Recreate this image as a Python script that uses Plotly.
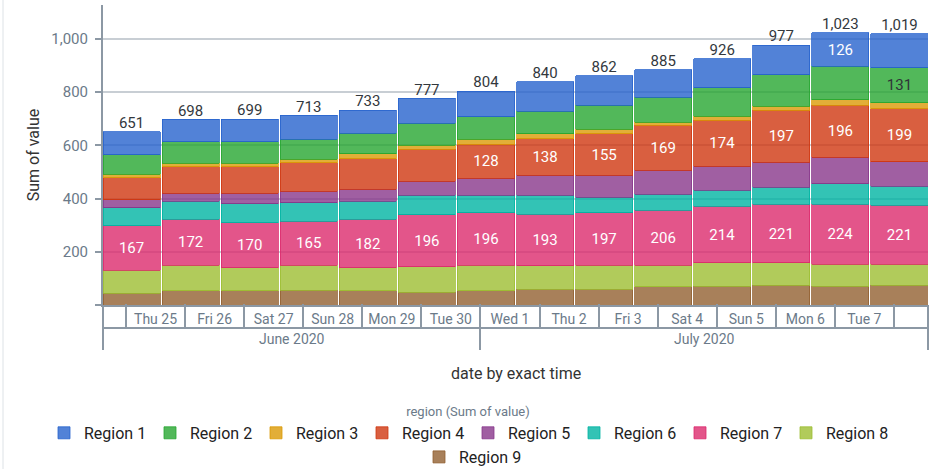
import pandas as pd
import plotly.graph_objects as go

# ---------------- data ----------------
dates = ["2020-06-25 02:15", "2020-06-26 02:15", "2020-06-27 02:15", "2020-06-28 02:15",
         "2020-06-29 02:15", "2020-06-30 02:15", "2020-07-01 02:15", "2020-07-02 02:15",
         "2020-07-03 02:15", "2020-07-04 02:15", "2020-07-05 02:15", "2020-07-06 02:15",
         "2020-07-07 02:15", "2020-07-08 02:15"]

regions = ["Region 1", "Region 2", "Region 3", "Region 4", "Region 5",
           "Region 6", "Region 7", "Region 8", "Region 9"]

region1 = [86, 85, 86, 89, 88, 94, 97, 112, 110, 104, 110, 112, 126, 127]
region2 = [73, 80, 80, 76, 77, 82, 84, 85, 92, 93, 106, 117, 126, 131]
region3 = [13, 13, 14, 14, 19, 15, 19, 17, 17, 13, 15, 15, 20, 23]
region4 = [83, 99, 98, 107, 113, 120, 128, 138, 155, 169, 174, 197, 196, 199]
region5 = [31, 31, 41, 42, 45, 53, 63, 76, 83, 89, 89, 94, 100, 93]
region6 = [67, 68, 70, 70, 69, 74, 67, 71, 58, 61, 60, 63, 77, 71]
region7 = [167, 172, 170, 165, 182, 196, 196, 193, 197, 206, 214, 221, 224, 221]
region8 = [86, 97, 87, 94, 87, 95, 97, 88, 90, 82, 87, 83, 83, 79]
region9 = [45, 53, 53, 56, 53, 48, 53, 60, 60, 68, 71, 75, 71, 75]

totals = [651, 698, 699, 713, 733, 777, 804, 840, 862, 885, 926, 977, 1023, 1019]

# which segments carry a value label
labeled1 = [False] * 12 + [True, False]
labeled2 = [False] * 13 + [True]
labeled4 = [False] * 6 + [True] * 8
labeled7 = [True] * 14

day_labels = ["Thu 25", "Fri 26", "Sat 27", "Sun 28", "Mon 29", "Tue 30", "Wed 1",
              "Thu 2", "Fri 3", "Sat 4", "Sun 5", "Mon 6", "Tue 7"]
month_labels = ["June 2020", "July 2020"]
month_start = "2020-07-01"

y_ticks = [0, 200, 400, 600, 800, 1000]
y_ticktext = ["", "200", "400", "600", "800", "1,000"]

colors = ["#2763cd", "#27a631", "#db9a06", "#cf3710", "#88378b",
          "#00b4a3", "#dc2a6d", "#9dbe32", "#926031"]

# ---------------- figure ----------------
FONT = "Roboto"
AXIS_COL = "#8c98a4"
TICK_COL = "#6b7a89"

def rgba(hexc, a):
    h = hexc.lstrip("#")
    r, g, b = int(h[0:2], 16), int(h[2:4], 16), int(h[4:6], 16)
    return f"rgba({r},{g},{b},{a})"

values = [region1, region2, region3, region4, region5, region6, region7, region8, region9]
labels = [labeled1, labeled2, None, labeled4, None, None, labeled7, None, None]

fig = go.Figure()
for i in reversed(range(9)):
    vals = values[i]
    lab = labels[i]
    text = [f"{v:,}" if (lab and lab[k]) else "" for k, v in enumerate(vals)]
    tcol = "#2f3338" if i == 1 else "white"
    fig.add_trace(go.Bar(
        x=dates, y=vals, name=regions[i],
        legend="legend2" if i == 8 else "legend",
        marker=dict(color=rgba(colors[i], 0.8), line=dict(color=colors[i], width=0.8)),
        text=text, textposition="inside", insidetextanchor="middle", textangle=0,
        textfont=dict(family=FONT, size=15, color=tcol),
        cliponaxis=False, hoverinfo="x+y+name",
    ))

fig.add_trace(go.Scatter(
    x=dates, y=totals, mode="text", text=[f"{t:,}" for t in totals],
    textposition="top center", showlegend=False,
    textfont=dict(family=FONT, size=15, color="#33383d"), cliponaxis=False,
))
# carriers so that the two label axes get drawn (draw nothing themselves)
for ax in ("x2", "x3"):
    fig.add_trace(go.Scatter(x=dates, y=totals, xaxis=ax, yaxis="y", mode="none",
                             showlegend=False, hoverinfo="skip"))

bargap = 0.034
d = pd.to_datetime(dates)
half = pd.Timedelta(days=(1 - bargap) / 2)
r0, r1 = d[0] - half, d[-1] + half
xr = [r0.strftime("%Y-%m-%d %H:%M:%S"), r1.strftime("%Y-%m-%d %H:%M:%S")]

days = d.floor("D")
day_tickvals = [(x + pd.Timedelta(hours=12)).strftime("%Y-%m-%d %H:%M") for x in days[:-1]]
day_seps = [x.strftime("%Y-%m-%d") for x in days]
ms = pd.Timestamp(month_start)
month_tickvals = [(r0 + (ms - r0) / 2).strftime("%Y-%m-%d %H:%M:%S"),
                  (ms + (r1 - ms) / 2).strftime("%Y-%m-%d %H:%M:%S")]
month_seps = [xr[0], month_start, xr[1]]

# pixel layout helpers
W, H = 934, 469
PT, PB = 5, 360          # paper top/bottom (px)
PH = PB - PT
def py(px):
    return (PB - px) / PH
PL, PR = 103, 928
def px_x(px):
    return (px - PL) / (PR - PL)

legend_common = dict(
    orientation="h",
    font=dict(family=FONT, size=16, color="#222"),
    entrywidth=61, entrywidthmode="pixels", bgcolor="rgba(0,0,0,0)",
)

fig.update_layout(
    width=W, height=H,
    margin=dict(l=PL, r=W - PR, t=PT, b=H - PB, autoexpand=False),
    paper_bgcolor="white", plot_bgcolor="white",
    barmode="stack", bargap=bargap,
    font=dict(family=FONT, color="#333"),
    showlegend=True,
    legend=dict(
        **legend_common, x=px_x(44), xanchor="left", y=py(399), yanchor="top",
        traceorder="reversed",
        title=dict(text="region (Sum of value)", side="top center",
                   font=dict(family=FONT, size=13, color=TICK_COL)),
    ),
    legend2=dict(**legend_common, x=px_x(472), xanchor="center", y=py(440), yanchor="top"),
    xaxis=dict(type="date", range=xr, showline=True, linecolor=AXIS_COL, linewidth=2,
               showgrid=False, zeroline=False, showticklabels=False, ticks="",
               anchor="y", automargin=False),
    xaxis2=dict(type="date", range=xr, overlaying="x", anchor="free", position=py(328),
                side="bottom", showline=True, linecolor=AXIS_COL, linewidth=2,
                showgrid=False, zeroline=False, automargin=False,
                tickmode="array", tickvals=day_tickvals, ticktext=day_labels, ticks="",
                ticklabelposition="inside",
                tickfont=dict(family=FONT, size=14, color=TICK_COL),
                minor=dict(tickmode="array", tickvals=day_seps, ticks="inside",
                           ticklen=23, tickwidth=2, tickcolor=AXIS_COL, showgrid=False)),
    xaxis3=dict(type="date", range=xr, overlaying="x", anchor="free", position=py(350),
                side="bottom", showline=False, showgrid=False, zeroline=False,
                automargin=False,
                tickmode="array", tickvals=month_tickvals, ticktext=month_labels, ticks="",
                ticklabelposition="inside",
                tickfont=dict(family=FONT, size=14, color=TICK_COL),
                minor=dict(tickmode="array", tickvals=month_seps, ticks="inside",
                           ticklen=45, tickwidth=2, tickcolor=AXIS_COL, showgrid=False)),
    yaxis=dict(domain=[py(305), 1], range=[0, 1128], tickmode="array",
               tickvals=y_ticks, ticktext=y_ticktext, automargin=False,
               showgrid=True, gridcolor="#c8ced4", gridwidth=1.5, zeroline=False,
               showline=True, linecolor=AXIS_COL, linewidth=2,
               ticks="outside", ticklen=6, tickwidth=2, tickcolor=AXIS_COL,
               tickfont=dict(family=FONT, size=15, color=TICK_COL),
               ticklabelstandoff=4,
               title=dict(text="Sum of value", standoff=8,
                          font=dict(family=FONT, size=16, color="#333"))),
    annotations=[dict(text="date by exact time", xref="paper", yref="paper",
                      x=0.5, y=py(373), xanchor="center", yanchor="middle",
                      showarrow=False, font=dict(family=FONT, size=16, color="#333"))],
    shapes=[dict(type="line", xref="paper", yref="paper", x0=px_x(3), x1=px_x(3),
                 y0=py(H), y1=py(0), line=dict(color="#dde2e6", width=1))],
)

fig.write_html("out.html", config={"displayModeBar": False},
               post_script="document.body.style.margin='0';document.body.style.overflow='hidden';")
